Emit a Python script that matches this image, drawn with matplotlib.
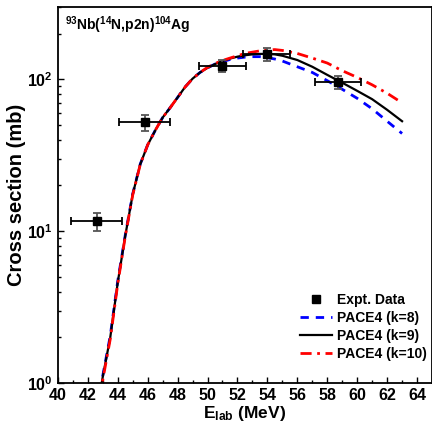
import matplotlib
matplotlib.use('Agg')
import matplotlib.pyplot as plt

plt.rcParams['font.family'] = ['Liberation Sans', 'DejaVu Sans']
plt.rcParams['font.weight'] = 'bold'
plt.rcParams['mathtext.fontset'] = 'custom'
plt.rcParams['mathtext.rm'] = 'Liberation Sans:bold'
plt.rcParams['mathtext.bf'] = 'Liberation Sans:bold'
plt.rcParams['mathtext.it'] = 'Liberation Sans:bold'
plt.rcParams['mathtext.default'] = 'bf'

# experimental points
e_exp = [42.6, 45.8, 51.0, 53.95, 58.7]
sig_exp = [11.6, 52, 123, 146, 96]
e_err = [1.7, 1.7, 1.6, 1.58, 1.54]
sig_err = [1.6, 6, 12, 14.5, 9.7]

# PACE4 calculations
e_calc = [42.8, 43.0, 43.5, 44.0, 44.5, 45.0, 45.5, 46.0, 46.5, 47.0, 47.5, 48.0,
          48.5, 49.0, 49.5, 50.0, 50.5, 51.0, 51.5, 52.0, 52.5, 53.0, 53.5, 54.0,
          54.5, 55.0, 56.0, 57.0, 58.0, 59.0, 60.0, 61.0, 62.0, 63.0]
k8 = [0.88, 1.12, 2.05, 4.7, 9.4, 17.6, 27.6, 37, 46, 56, 65, 76,
      89, 101, 111, 119, 126, 131, 135, 138, 140, 141, 141, 139,
      136, 132, 121, 111, 98, 86, 75, 64, 53, 44]
k9 = [0.85, 1.1, 2.0, 4.6, 9.3, 17.5, 27.5, 37, 46, 56, 65, 76,
      89, 101, 111, 119, 126, 132, 137, 141, 144, 146, 147, 147,
      146, 143, 134, 121, 107, 95, 84, 74, 63, 53]
k10 = [0.8, 1.05, 1.95, 4.5, 9.2, 17.3, 27.4, 37, 46, 56, 65, 76,
       89, 101, 111, 120, 127, 133, 138, 143, 148, 151, 154, 156,
       157, 155, 148, 138, 128, 114, 103, 92, 81, 70]

fig = plt.figure(figsize=(4.32, 4.29), dpi=100)
ax = fig.add_axes([0.134, 0.107, 0.866, 0.877])

ax.plot(e_calc, k8, color='blue', lw=2, dashes=(3, 2.5), label='PACE4 (k=8)')
ax.plot(e_calc, k9, color='black', lw=1.6, label='PACE4 (k=9)')
ax.plot(e_calc, k10, color='red', lw=2, dashes=(4, 2, 1, 2), label='PACE4 (k=10)')

ax.errorbar(e_exp, sig_exp, xerr=e_err, fmt='none', ecolor='black', elinewidth=1.3,
            capsize=3, capthick=1.3, zorder=5)
ax.errorbar(e_exp, sig_exp, yerr=sig_err, fmt='none', ecolor='#555555', elinewidth=1.3,
            capsize=3, capthick=1.3, zorder=5)
ax.plot(e_exp, sig_exp, 's', color='black', ms=5.5, ls='none', label='Expt. Data', zorder=6)

ax.set_yscale('log')
ax.set_xlim(40, 65)
ax.set_ylim(1, 300)
ax.set_xticks(range(40, 65, 2))
ax.set_xticks(range(41, 65, 2), minor=True)
ax.tick_params(which='both', direction='in', labelsize=11.5, width=1)
ax.tick_params(which='major', length=4)
ax.tick_params(which='minor', length=2.5)
for s in ax.spines.values():
    s.set_linewidth(1.3)

ax.set_xlabel('E$_{lab}$ (MeV)', fontsize=12.5, fontweight='bold', labelpad=1)
ax.set_ylabel('Cross section (mb)', fontsize=14.5, fontweight='bold', labelpad=1)

ax.text(0.02, 0.95, '$^{93}$Nb($^{14}$N,p2n)$^{104}$Ag', transform=ax.transAxes,
        fontsize=10, fontweight='bold', va='center', ha='left')

h, l = ax.get_legend_handles_labels()
order = [3, 0, 1, 2]
ax.legend([h[i] for i in order], [l[i] for i in order], loc='lower right',
          bbox_to_anchor=(1.0, 0.045), borderaxespad=0,
          frameon=False, prop={'weight': 'bold', 'size': 10}, handlelength=2.3,
          labelspacing=0.28, handletextpad=0.3)

fig.savefig('out.png', dpi=100)
